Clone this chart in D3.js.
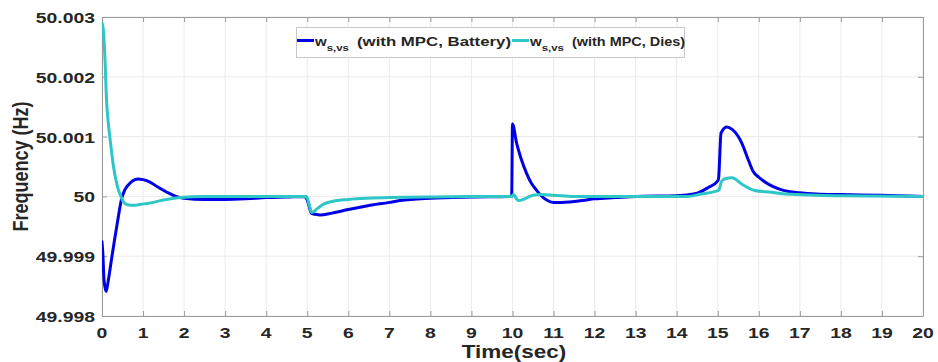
<!DOCTYPE html>
<html><head><meta charset="utf-8">
<script src="https://cdn.jsdelivr.net/npm/d3@7"></script>
<style>body{margin:0;background:#fff}svg{display:block}text{font-family:"Liberation Sans",Arial,sans-serif;font-weight:bold;fill:#262626}</style>
</head><body><svg id="c" width="938" height="362"></svg>
<script>
const xTicks = d3.range(0, 21);
const yTicks = [49.998, 49.999, 50, 50.001, 50.002, 50.003];
const yTickLabels = ["49.998", "49.999", "50", "50.001", "50.002", "50.003"];
const seriesNames = ["Battery", "Dies"];

const batteryT = [0,0.02,0.05,0.1,0.15,0.23,0.3,0.36,0.42,0.47,0.55,0.64,0.75,0.88,1.0,1.17,1.35,1.58,1.8,2.0,2.5,3.0,3.5,4.0,4.5,4.95,5.02,5.1,5.2,5.31,5.6,6.0,6.44,7.0,7.26,8.0,9.0,9.98,10.0,10.1,10.2,10.34,10.46,10.58,10.7,10.83,11.0,11.2,11.7,12.0,12.5,13.0,14.0,14.48,14.77,15.0,15.02,15.08,15.22,15.35,15.58,15.75,15.86,16.0,16.15,16.6,17.0,17.4,18.0,19.0,20.0];
const batteryV = [49.99924,49.99905,49.99860,49.99841,49.99858,49.99894,49.99925,49.99950,49.99975,49.99994,50.00010,50.00019,50.00026,50.00029,50.00028,50.00024,50.00016,50.00007,50.00000,49.99997,49.99995,49.99995,49.99996,49.99998,49.99999,50.00000,49.99990,49.99972,49.99970,49.99969,49.99972,49.99978,49.99984,49.99990,49.99993,49.99997,49.99999,50.00000,50.00121,50.00089,50.00065,50.00039,50.00022,50.00011,50.00001,49.99994,49.99990,49.99990,49.99993,49.99996,49.99998,50.00000,50.00001,50.00005,50.00015,50.00026,50.00030,50.00106,50.00116,50.00112,50.00090,50.00060,50.00042,50.00032,50.00024,50.00010,50.00006,50.00004,50.00003,50.00002,50.00000];

const dieselT = [0,0.03,0.07,0.11,0.15,0.2,0.28,0.34,0.4,0.46,0.52,0.62,0.78,0.95,1.1,1.5,1.9,2.5,3,4,4.98,5.05,5.11,5.25,5.4,5.63,6.0,6.44,7,8,9,9.98,10.02,10.14,10.3,10.5,10.7,11.0,11.5,14.24,14.6,15.02,15.1,15.2,15.34,15.62,15.9,16.3,16.67,17.4,18,20];
const dieselV = [50.00290,50.00280,50.00234,50.00161,50.00125,50.00094,50.00050,50.00027,50.00011,50.00000,49.99991,49.99986,49.99985,49.99987,49.99988,49.99994,49.99998,50.00000,50.00000,50.00000,50.00000,49.99985,49.99973,49.99980,49.99987,49.99992,49.99995,49.99997,49.99998,49.99999,50.00000,50.00000,50.00003,49.99993,49.99996,50.00002,50.00003,50.00002,50.00000,50.00000,50.00004,50.00010,50.00026,50.00030,50.00031,50.00019,50.00010,50.00007,50.00004,50.00002,50.00001,50.00000];

const colors = ["#0000e6", "#2ec6c6"];
const SX = 1.25;

const svg = d3.select("#c");
const L = 102, R = 923, T = 17, B = 316;
const x = d3.scaleLinear().domain([0, 20]).range([L, R]);
const y = d3.scaleLinear().domain([49.998, 50.003]).range([B, T]);

function stext(g, px, py, txt, anchor, size) {
  return g.append("text")
    .attr("transform", `translate(${px},${py}) scale(${SX},1)`)
    .attr("text-anchor", anchor).style("font-size", size + "px").text(txt);
}

// grid
const grid = svg.append("g");
grid.selectAll("line.gx").data(xTicks).join("line")
  .attr("x1", d => x(d)).attr("x2", d => x(d)).attr("y1", T).attr("y2", B)
  .attr("stroke", "#ebebeb").attr("stroke-width", 1);
grid.selectAll("line.gy").data(yTicks).join("line")
  .attr("y1", d => y(d)).attr("y2", d => y(d)).attr("x1", L).attr("x2", R)
  .attr("stroke", "#ebebeb").attr("stroke-width", 1);

// axes (ticks inward, labels separately)
const axCol = "#9a9a9a";
const axB = svg.append("g").attr("transform", `translate(0,${B})`)
  .call(d3.axisBottom(x).tickValues(xTicks).tickSize(-5).tickSizeOuter(0).tickFormat(""));
const axT = svg.append("g").attr("transform", `translate(0,${T})`)
  .call(d3.axisTop(x).tickValues(xTicks).tickSize(-5).tickSizeOuter(0).tickFormat(""));
const axL = svg.append("g").attr("transform", `translate(${L},0)`)
  .call(d3.axisLeft(y).tickValues(yTicks).tickSize(-5).tickSizeOuter(0).tickFormat(""));
const axR = svg.append("g").attr("transform", `translate(${R},0)`)
  .call(d3.axisRight(y).tickValues(yTicks).tickSize(-5).tickSizeOuter(0).tickFormat(""));
[axB, axT, axL, axR].forEach(g => {
  g.selectAll("path,line").attr("stroke", axCol).attr("stroke-width", 1);
});

// tick labels
xTicks.forEach(t => stext(svg, x(t), 338, String(t), "middle", 15.5));
yTicks.forEach((v, i) => stext(svg, 95, y(v) + 6, yTickLabels[i], "end", 15.5));

// axis titles
stext(svg, 514, 358, "Time(sec)", "middle", 18);
svg.append("text")
  .attr("transform", `translate(28,${(T + B) / 2}) rotate(-90) scale(1,${SX})`)
  .attr("text-anchor", "middle").style("font-size", "18px").text("Frequency (Hz)");

// lines
const line = d3.line().x(d => x(d[0])).y(d => y(d[1])).curve(d3.curveMonotoneX);
const data = [d3.zip(batteryT, batteryV), d3.zip(dieselT, dieselV)];
svg.append("clipPath").attr("id", "pc").append("rect")
  .attr("x", L).attr("y", T - 2).attr("width", R - L).attr("height", B - T + 2);
data.forEach((d, i) => {
  svg.append("path").datum(d).attr("d", line)
    .attr("fill", "none").attr("stroke", colors[i]).attr("stroke-width", 3)
    .attr("stroke-linejoin", "round").attr("stroke-linecap", "round")
    .attr("clip-path", "url(#pc)");
});

// legend
const lg = svg.append("g");
lg.append("rect").attr("x", 296.5).attr("y", 27.5).attr("width", 388).attr("height", 30)
  .attr("fill", "#fff").attr("stroke", "#c8c8c8").attr("stroke-width", 1);
const items = [
  {x0: 297, c: colors[0], name: seriesNames[0], len: 154},
  {x0: 512, c: colors[1], name: seriesNames[1], len: 113}
];
items.forEach(it => {
  lg.append("line").attr("x1", it.x0).attr("x2", it.x0 + 17).attr("y1", 40.5).attr("y2", 40.5)
    .attr("stroke", it.c).attr("stroke-width", 3);
  const t = lg.append("text")
    .attr("transform", `translate(${it.x0 + 18},45.5) scale(1.2,1)`)
    .style("font-size", "12.5px");
  t.append("tspan").text("w");
  t.append("tspan").attr("dy", 5).style("font-size", "9.5px").text("s,vs");
  lg.append("text").attr("x", it.x0 + 60).attr("y", 45.5)
    .style("font-size", "12.5px")
    .attr("textLength", it.len).attr("lengthAdjust", "spacingAndGlyphs")
    .text(`(with MPC, ${it.name})`);
});
</script>
</body></html>
